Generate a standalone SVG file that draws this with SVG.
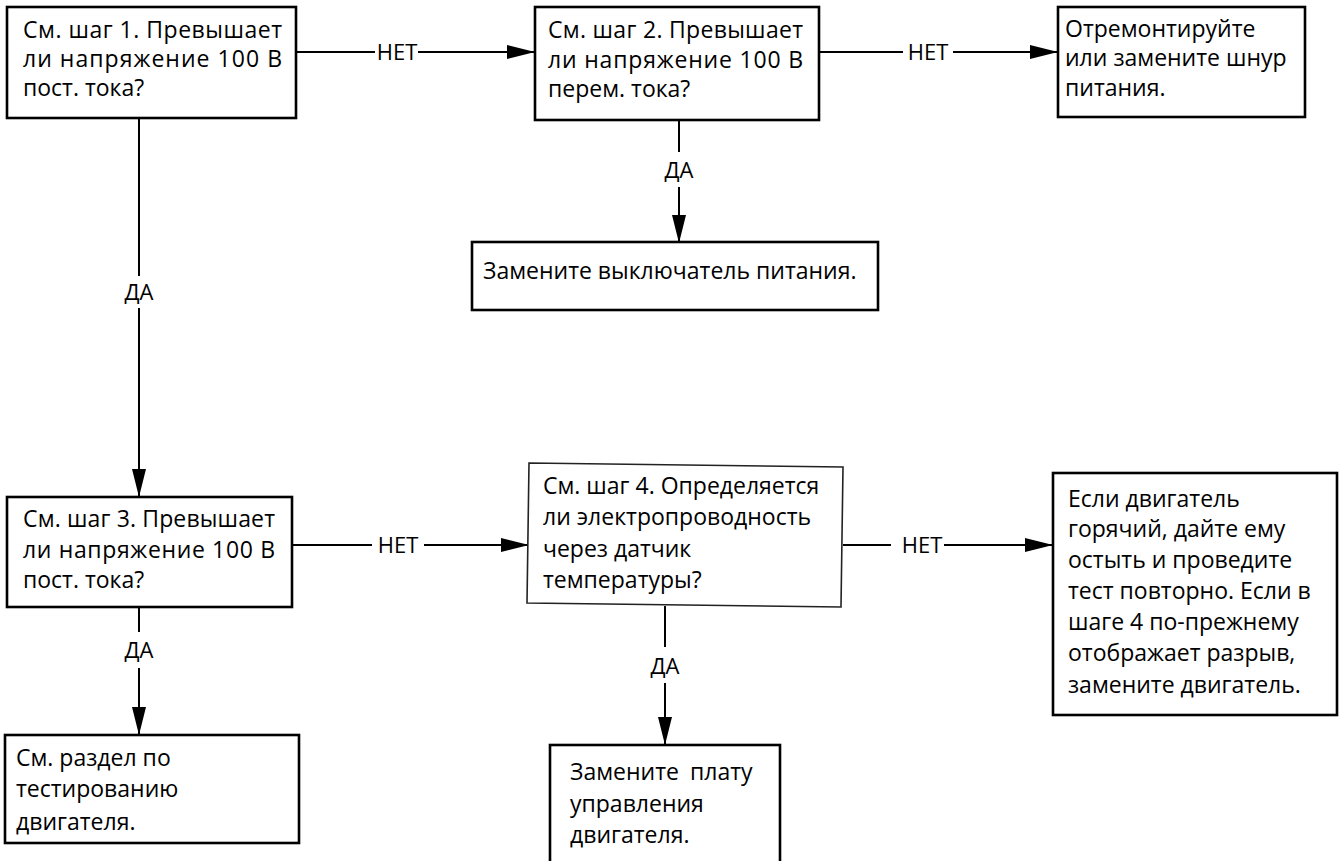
<svg xmlns="http://www.w3.org/2000/svg" width="1340" height="861" viewBox="0 0 1340 861">
  <defs>
    <style>
      .box { fill: #fff; stroke: #000; stroke-width: 2.6; }
      .thin { fill: #fff; stroke: #222; stroke-width: 1.6; }
      .t { font-family: "Open Sans", "Noto Sans", "DejaVu Sans", sans-serif; font-size: 23px; fill: #000; }
      .lbl { font-family: "Open Sans", "Noto Sans", "DejaVu Sans", sans-serif; font-size: 22px; fill: #000; text-anchor: middle; }
      .conn { fill: none; stroke: #000; stroke-width: 2; }
      .arr { marker-end: url(#arrow); }
    </style>
    <marker id="arrow" markerUnits="userSpaceOnUse" markerWidth="28" markerHeight="14" refX="28" refY="7" orient="auto">
      <path d="M0,0 L28,7 L0,14 Z" fill="#000"/>
    </marker>
  </defs>

  <rect width="1340" height="861" fill="#fff"/>

  <!-- connectors -->
  <g id="connectors">
    <path class="conn" d="M296,52 H375"/>
    <path class="conn arr" d="M418,52 H535"/>
    <text class="lbl" x="397" y="60">НЕТ</text>

    <path class="conn" d="M819,52 H903"/>
    <path class="conn arr" d="M953,52 H1058"/>
    <text class="lbl" x="928" y="60">НЕТ</text>

    <path class="conn" d="M679,120 V152"/>
    <path class="conn arr" d="M679,187 V243"/>
    <text class="lbl" x="679" y="178">ДА</text>

    <path class="conn" d="M139,118 V276"/>
    <path class="conn arr" d="M139,308 V497"/>
    <text class="lbl" x="139" y="300">ДА</text>

    <path class="conn" d="M292,545 H372"/>
    <path class="conn arr" d="M424,545 H529"/>
    <text class="lbl" x="398" y="553">НЕТ</text>

    <path class="conn" d="M843,545 H891"/>
    <path class="conn arr" d="M944,545 H1053"/>
    <text class="lbl" x="922" y="553">НЕТ</text>

    <path class="conn" d="M139,607 V632"/>
    <path class="conn arr" d="M139,668 V735"/>
    <text class="lbl" x="139" y="658">ДА</text>

    <path class="conn" d="M665,606 V647"/>
    <path class="conn arr" d="M665,683 V745"/>
    <text class="lbl" x="665" y="674">ДА</text>
  </g>

  <!-- step 1 -->
  <g id="step1">
    <rect class="box" x="7" y="7" width="289" height="111"/>
    <text class="t" x="23" y="38" textLength="259" lengthAdjust="spacing">См. шаг 1. Превышает</text>
    <text class="t" x="23" y="67" textLength="259" lengthAdjust="spacing">ли напряжение 100 В</text>
    <text class="t" x="23" y="96">пост. тока?</text>
  </g>

  <!-- step 2 -->
  <g id="step2">
    <rect class="box" x="535" y="7" width="284" height="113"/>
    <text class="t" x="548" y="38" textLength="255" lengthAdjust="spacing">См. шаг 2. Превышает</text>
    <text class="t" x="548" y="68" textLength="255" lengthAdjust="spacing">ли напряжение 100 В</text>
    <text class="t" x="548" y="97">перем. тока?</text>
  </g>

  <!-- repair cord -->
  <g id="repair-cord">
    <rect class="box" x="1058" y="7" width="247" height="110"/>
    <text class="t" x="1065" y="37">Отремонтируйте</text>
    <text class="t" x="1065" y="66">или замените шнур</text>
    <text class="t" x="1065" y="96">питания.</text>
  </g>

  <!-- replace switch -->
  <g id="replace-switch">
    <rect class="box" x="472" y="242" width="406" height="68"/>
    <text class="t" x="483" y="279">Замените выключатель питания.</text>
  </g>

  <!-- step 3 -->
  <g id="step3">
    <rect class="box" x="7" y="497" width="285" height="110"/>
    <text class="t" x="23" y="527" textLength="252" lengthAdjust="spacing">См. шаг 3. Превышает</text>
    <text class="t" x="23" y="558" textLength="252" lengthAdjust="spacing">ли напряжение 100 В</text>
    <text class="t" x="23" y="588">пост. тока?</text>
  </g>

  <!-- step 4 -->
  <g id="step4">
    <polygon class="thin" points="529,463 843,467 841,607 527,603"/>
    <text class="t" x="543" y="494">См. шаг 4. Определяется</text>
    <text class="t" x="543" y="525">ли электропроводность</text>
    <text class="t" x="543" y="557">через датчик</text>
    <text class="t" x="543" y="588">температуры?</text>
  </g>

  <!-- motor hot -->
  <g id="motor-hot">
    <rect class="box" x="1053" y="473" width="284" height="242"/>
    <text class="t" x="1068" y="507">Если двигатель</text>
    <text class="t" x="1068" y="537">горячий, дайте ему</text>
    <text class="t" x="1068" y="568">остыть и проведите</text>
    <text class="t" x="1068" y="599">тест повторно. Если в</text>
    <text class="t" x="1068" y="630">шаге 4 по-прежнему</text>
    <text class="t" x="1068" y="661">отображает разрыв,</text>
    <text class="t" x="1068" y="693">замените двигатель.</text>
  </g>

  <!-- motor testing -->
  <g id="motor-test">
    <rect class="box" x="5" y="735" width="294" height="108"/>
    <text class="t" x="16" y="766">См. раздел по</text>
    <text class="t" x="16" y="797">тестированию</text>
    <text class="t" x="16" y="830">двигателя.</text>
  </g>

  <!-- replace control board -->
  <g id="replace-board">
    <rect class="box" x="550" y="745" width="230" height="130"/>
    <text class="t" x="570" y="780">Замените<tspan x="690">плату</tspan></text>
    <text class="t" x="570" y="812">управления</text>
    <text class="t" x="570" y="843">двигателя.</text>
  </g>
</svg>
